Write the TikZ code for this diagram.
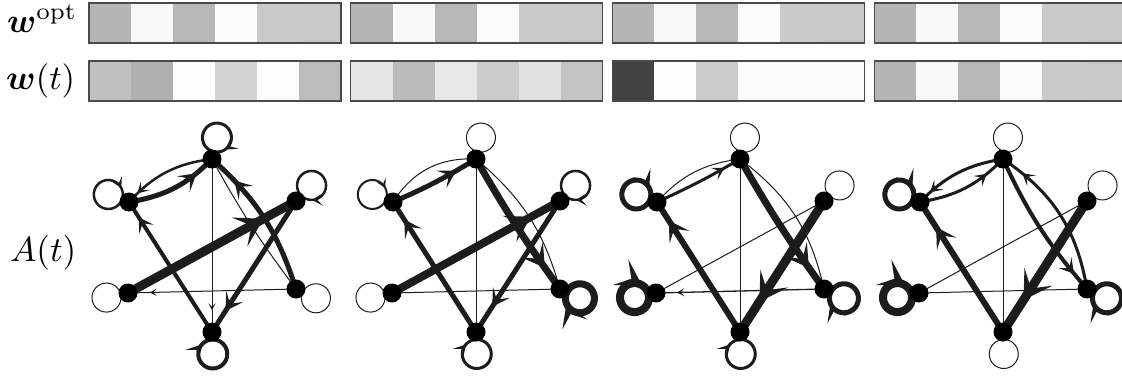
\documentclass[tikz,border=0pt]{standalone}
\usepackage{amsmath}
\usepackage{graphicx}
\usetikzlibrary{arrows.meta,decorations.markings}
\definecolor{ec}{HTML}{1C1C1C}
\definecolor{bc}{HTML}{4A4A4A}
\pgfdeclarelayer{bg}
\pgfsetlayers{bg,main}
\newcommand{\mybar}[3]{%
  \foreach \g [count=\i from 0] in {#3} {
    \definecolor{cc}{gray}{\g}
    \fill[cc] ({#1+42*\i},#2) rectangle ++(42,-40);
  }
  \draw[bc,line width=1.2] (#1,#2) rectangle ++(252,-40);
}
\newcommand{\mknodes}[2]{%
  \node[nd] (#1T)  at (#2,-159) {};
  \node[nd] (#1UL) at (#2-83,-202) {};
  \node[nd] (#1UR) at (#2+84,-201) {};
  \node[nd] (#1LL) at (#2-84,-293) {};
  \node[nd] (#1LR) at (#2+84,-289) {};
  \node[nd] (#1B)  at (#2,-332) {};
}
% self-loop: node, direction, line width, extra options
\newcommand{\lp}[4]{%
  \draw[e,line width=#3,#4] (#1.center) ++(#2:7.5)
    arc[start angle={#2+180},end angle={#2-180},radius=14.5];
}
\begin{document}
\begin{tikzpicture}[x=1pt,y=1pt,
  nd/.style={circle,fill=black,inner sep=0pt,minimum size=19pt},
  e/.style={draw=ec,line cap=butt},
  ar/.style={postaction={decorate,decoration={markings,
      mark=at position #1 with {\arrow{Stealth[length=4pt 2.6,width=4pt 3.2,inset=2pt 1.3]}}}}},
  lab/.style={anchor=base west,inner sep=0pt}
]
\useasboundingbox (0,0) rectangle (1122,-375);

% labels
\node[lab] (lw) at (7,-32) {\scalebox{3.4}{$\boldsymbol{w}^{\mathrm{opt}}$}};
\node[lab] (lwt) at (6,-89) {\scalebox{3.45}{$\boldsymbol{w}(t)$}};
\node[lab] (la) at (10,-261) {\scalebox{3.5}{$A(t)$}};

% bars
\mybar{89}{-3}{0.710,0.976,0.718,0.984,0.792,0.788}
\mybar{89}{-61}{0.753,0.690,0.992,0.831,0.988,0.741}
\mybar{350.7}{-3}{0.710,0.976,0.718,0.984,0.792,0.788}
\mybar{350.7}{-61}{0.902,0.733,0.910,0.796,0.878,0.769}
\mybar{612.4}{-3}{0.710,0.976,0.718,0.984,0.792,0.788}
\mybar{612.4}{-61}{0.259,0.992,0.796,0.984,0.984,0.984}
\mybar{874.1}{-3}{0.710,0.976,0.718,0.984,0.792,0.788}
\mybar{874.1}{-61}{0.710,0.976,0.718,0.984,0.792,0.788}

% nodes
\mknodes{a}{212}
\mknodes{b}{476}
\mknodes{c}{740}
\mknodes{d}{1003}

\begin{pgfonlayer}{bg}
% panel 1
\lp{aT}{77}{3}{ar=0.87}
\lp{aUL}{160}{2.5}{ar=0.87}
\lp{aUR}{45}{2.5}{ar=0.87}
\lp{aLL}{192}{1}{}
\lp{aLR}{-25}{1}{}
\lp{aB}{-88}{4}{ar=0.87}
\draw[e,line width=2.5,ar=-12pt] (aT.center) to[bend right=20] (aUL.center);
\draw[e,line width=5,ar=-21pt] (aUL.center) to[bend right=18] (aT.center);
\draw[e,line width=1,ar=-22pt] (aT.center) -- (aB.center);
\draw[e,line width=1] (aT.center) to[bend right=4] (aLR.center);
\draw[e,line width=5,ar=-31pt] (aLR.center) to[bend right=15] (aT.center);
\draw[e,line width=9,ar=-37pt] (aLL.center) -- (aUR.center);
\draw[e,line width=5,ar=-25pt] (aUR.center) -- (aB.center);
\draw[e,line width=4,ar=-18pt] (aB.center) -- (aUL.center);
\draw[e,line width=1,ar=-22pt] (aLR.center) -- (aLL.center);
% panel 2
\lp{bT}{77}{1}{}
\lp{bUL}{160}{2}{ar=0.87}
\lp{bUR}{45}{2.5}{ar=0.87}
\lp{bLL}{192}{1}{}
\lp{bLR}{-25}{7}{ar=0.87}
\lp{bB}{-88}{3}{ar=0.87}
\draw[e,line width=1] (bT.center) to[bend right=30] (bUL.center);
\draw[e,line width=5,ar=-23pt] (bUL.center) to[bend right=4] (bT.center);
\draw[e,line width=1] (bT.center) -- (bB.center);
\draw[e,line width=7,ar=-26pt] (bT.center) to[bend right=3] (bLR.center);
\draw[e,line width=1] (bLR.center) to[bend right=17] (bT.center);
\draw[e,line width=8,ar=-33pt] (bLL.center) -- (bUR.center);
\draw[e,line width=5,ar=-30pt] (bUR.center) -- (bB.center);
\draw[e,line width=5,ar=-21pt] (bB.center) -- (bUL.center);
\draw[e,line width=1] (bLR.center) -- (bLL.center);
% panel 3
\lp{cT}{77}{1}{}
\lp{cUL}{160}{5}{ar=0.87}
\lp{cUR}{45}{1}{}
\lp{cLL}{192}{8}{ar=0.87}
\lp{cLR}{-25}{5}{ar=0.87}
\lp{cB}{-88}{3}{ar=0.87}
\draw[e,line width=1] (cT.center) to[bend right=20] (cUL.center);
\draw[e,line width=3,ar=-18pt] (cUL.center) to[bend right=3] (cT.center);
\draw[e,line width=1] (cT.center) -- (cB.center);
\draw[e,line width=7,ar=-26pt] (cT.center) to[bend right=3] (cLR.center);
\draw[e,line width=1] (cLR.center) to[bend right=20] (cT.center);
\draw[e,line width=1] (cUR.center) -- (cLL.center);
\draw[e,line width=9,ar=-36pt] (cUR.center) -- (cB.center);
\draw[e,line width=6,ar=-22pt] (cB.center) -- (cUL.center);
\draw[e,line width=1.3,ar=-21pt] (cLR.center) -- (cLL.center);
% panel 4
\lp{dT}{77}{1}{}
\lp{dUL}{160}{5}{ar=0.87}
\lp{dUR}{45}{1}{}
\lp{dLL}{192}{8}{ar=0.87}
\lp{dLR}{-25}{5}{ar=0.87}
\lp{dB}{-88}{1}{}
\draw[e,line width=3,ar=-14pt] (dT.center) to[bend right=18] (dUL.center);
\draw[e,line width=3,ar=-22pt] (dUL.center) to[bend right=18] (dT.center);
\draw[e,line width=1] (dT.center) -- (dB.center);
\draw[e,line width=4,ar=-20pt] (dT.center) to[bend right=8] (dLR.center);
\draw[e,line width=3,ar=-24pt] (dLR.center) to[bend right=23] (dT.center);
\draw[e,line width=1] (dUR.center) -- (dLL.center);
\draw[e,line width=9,ar=-38pt] (dUR.center) -- (dB.center);
\draw[e,line width=6,ar=-30pt] (dB.center) -- (dUL.center);
\draw[e,line width=1] (dLR.center) -- (dLL.center);
\end{pgfonlayer}
\end{tikzpicture}
\end{document}
